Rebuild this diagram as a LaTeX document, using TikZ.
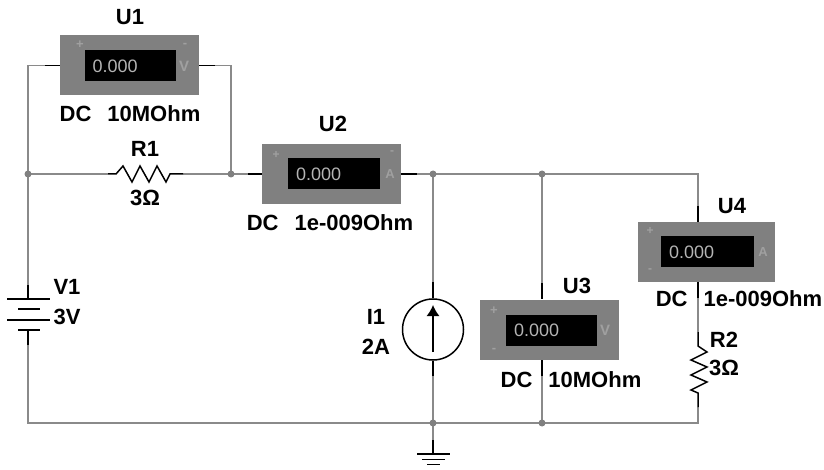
\documentclass[tikz,border=0pt]{standalone}
\usepackage{fontspec}
\setmainfont{Liberation Sans}
\usepackage{tikz}
\usetikzlibrary{calc}
\usetikzlibrary{arrows.meta}
\definecolor{wiregray}{HTML}{8A8A8A}
\definecolor{boxgray}{HTML}{808080}
\definecolor{digitgray}{HTML}{B4B4B4}
\definecolor{marklight}{HTML}{A0A0A0}
\tikzset{
  wire/.style={draw=wiregray, line width=1.6pt},
  lead/.style={draw=black, line width=1.6pt},
  part/.style={draw=black, line width=1.5pt, line join=miter},
  junction/.style={circle, fill=boxgray, inner sep=0pt, minimum size=7pt},
  meterbox/.style={rectangle, fill=boxgray, inner sep=0pt, minimum width=139pt, minimum height=60pt},
  display/.style={rectangle, fill=black, text=digitgray, inner xsep=8pt, inner ysep=0pt, text width=75pt, align=left, minimum height=31pt, font=\fontsize{18}{18}\selectfont},
  tag/.style={inner sep=0pt, font=\fontsize{22}{22}\selectfont\bfseries},
  mark/.style={inner sep=0pt, text=marklight, font=\fontsize{#1}{#1}\selectfont\bfseries},
  mark/.default=13,
}
\begin{document}
\begin{tikzpicture}[x=1pt,y=-1pt]
\useasboundingbox (0,0) rectangle (824,470);

\path
 (28,65.5)  coordinate (cornerA)
 (231,65.5) coordinate (cornerB)
 (28,174)   coordinate (nodeA)
 (231,174)  coordinate (nodeB)
 (433,174)  coordinate (nodeC)
 (542,174)  coordinate (nodeD)
 (698,174)  coordinate (cornerC)
 (28,423)   coordinate (cornerD)
 (433,423)  coordinate (nodeE)
 (542,423)  coordinate (nodeF)
 (698,423)  coordinate (cornerE)
 (45,65.5)  coordinate (leadAa)
 (215,65.5) coordinate (leadAb)
 (248,174)  coordinate (leadBa)
 (417,174)  coordinate (leadBb)
 (542,283)  coordinate (leadCa)
 (542,376)  coordinate (leadCb)
 (698,206)  coordinate (leadDa)
 (698,298)  coordinate (leadDb)
 (108,174)  coordinate (resAa)
 (183,174)  coordinate (resAb)
 (698,332)  coordinate (resBa)
 (698,407)  coordinate (resBb)
 (28,285)   coordinate (batA)
 (28,345)   coordinate (batB)
 (433,282)  coordinate (srcA)
 (433,376)  coordinate (srcB)
 (433,440)  coordinate (gndA)
;

% meters
\node[meterbox] (U1box) at (129.5,65.5) {};
\node[display] (U1disp) at (130,66) {0.000};
\node[mark] at (80,45) {+};
\node[mark] at (185,45) {-};
\node[mark=15] at (184,66) {V};

\node[meterbox] (U2box) at (331.5,174) {};
\node[display, text width=76pt] (U2disp) at (334,174) {0.000};
\node[mark=12] at (276,155) {+};
\node[mark=12] at (392,153) {-};
\node[mark=13] at (390,174) {A};

\node[meterbox] (U3box) at (549.5,329.5) {};
\node[display] (U3disp) at (551.5,330) {0.000};
\node[mark] at (494,311) {+};
\node[mark] at (494,350) {-};
\node[mark=15] at (605,330) {V};

\node[meterbox, minimum width=137pt] (U4box) at (706.5,252) {};
\node[display, text width=77pt] (U4disp) at (707.5,252) {0.000};
\node[mark=12] at (650,231) {+};
\node[mark=12] at (650,271) {-};
\node[mark=13] at (763,252) {A};

% wires
\draw[wire]
   (leadAa) -- (cornerA) -- (nodeA) -- (batA)
   (leadAb) -- (cornerB) -- (nodeB)
   (nodeA) -- (resAa)
   (resAb) -- (nodeB) -- (leadBa)
   (leadBb) -- (nodeC) -- (nodeD) -- (cornerC) -- (leadDa)
   (nodeC) -- (srcA)
   (nodeD) -- (leadCa)
   (leadDb) -- (resBa)
   (resBb) -- (cornerE) -- (nodeF) -- (nodeE) -- (cornerD) -- (batB)
   (leadCb) -- (nodeF)
   (srcB) -- (nodeE) -- (gndA)
;

% black stubs at the meters
\draw[lead]
   (leadAa) -- (U1box.west)
   (leadAb) -- (U1box.east)
   (leadBa) -- (U2box.west)
   (leadBb) -- (U2box.east)
   (leadCa) -- (leadCa |- U3box.north)
   (leadCb) -- (leadCb |- U3box.south)
   (leadDa) -- (leadDa |- U4box.north)
   (leadDb) -- (leadDb |- U4box.south)
;

\node[junction] at (nodeA) {};
\node[junction] at (nodeB) {};
\node[junction] at (nodeC) {};
\node[junction] at (nodeD) {};
\node[junction] at (nodeE) {};
\node[junction] at (nodeF) {};

% R1
\draw[part]
   (resAa) -- (116,174) -- (123,166) -- (132,182) -- (140,166) -- (149,182)
           -- (157,166) -- (166,182) -- (170,174) -- (resAb)
;
% R2
\draw[part]
   (resBa) -- (698,346) -- (707,352) -- (691,360) -- (707,367) -- (691,375)
           -- (707,382) -- (691,390) -- (698,393) -- (resBb)
;
% V1
\draw[part]
   (batA) -- (28,299)
   (7,299) -- (50,299)
   (18,309) -- (40,309)
   (7,320) -- (50,320)
   (18,330) -- (40,330)
   (28,330) -- (batB)
;
% I1
\node[circle, draw=black, line width=1.5pt, minimum size=61pt, inner sep=0pt] (I1src) at (433,329.5) {};
\draw[part] (srcA) -- (I1src.north) (srcB) -- (I1src.south);
\draw[part, -{Latex[length=11pt,width=13pt]}] (433,352) -- (433,305);
% ground
\draw[part]
   (gndA) -- (433,454)
   (417,454) -- (450,454)
   (422,459.5) -- (445,459.5)
   (427,464.5) -- (440,464.5)
;

% labels
\node[tag] at (130,17)  {U1};
\node[tag] at (130,114) {DC\hspace{16pt}10MOhm};
\node[tag] at (145,149) {R1};
\node[tag] at (145,198) {3Ω};
\node[tag] at (333,124) {U2};
\node[tag] at (330,223) {DC\hspace{16pt}1e-009Ohm};
\node[tag] at (577,286) {U3};
\node[tag] at (571,380) {DC\hspace{16pt}10MOhm};
\node[tag] at (732,206) {U4};
\node[tag] at (739,299) {DC\hspace{16pt}1e-009Ohm};
\node[tag] at (724,340) {R2};
\node[tag] at (724,368) {3Ω};
\node[tag] at (376,317) {I1};
\node[tag] at (376,347) {2A};
\node[tag] at (67,287)  {V1};
\node[tag] at (67,317)  {3V};
\end{tikzpicture}
\end{document}
